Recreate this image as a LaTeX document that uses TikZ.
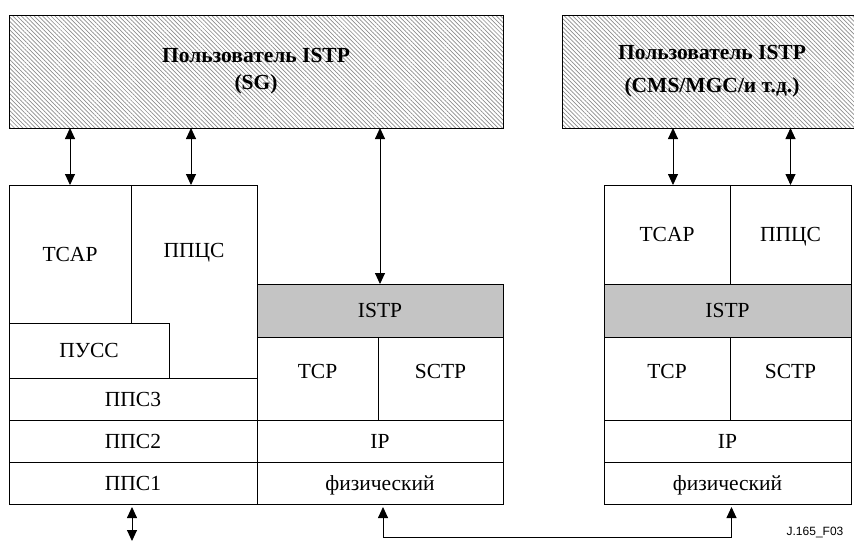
\documentclass[tikz,border=0pt]{standalone}
\usepackage{fontspec}
\setmainfont{Liberation Serif}
\newfontfamily\tagfont{Liberation Sans}
\usetikzlibrary{arrows.meta, patterns.meta}
\tikzstyle{user} = [rectangle, anchor=north west, inner sep=0pt, outer sep=0pt, draw=black, line width=0.8pt, pattern={Lines[angle=-45,distance=3pt,line width=0.7pt]}, pattern color=black!45, font=\fontsize{21.5}{25}\selectfont\bfseries, align=center]
\tikzstyle{cell} = [rectangle, anchor=north west, inner sep=0pt, outer sep=0pt, draw=black, line width=0.8pt, fill=white, text centered, text height=14pt, text depth=0pt]
\tikzstyle{band} = [cell, fill=black!23]
\tikzstyle{raised} = [text depth=14pt]
\tikzstyle{arrow} = [line width=0.9pt, <->, >={Triangle[length=11pt,width=10pt]}]

\begin{document}
\begin{tikzpicture}[x=1pt, y=-1pt, font=\fontsize{21.5}{25}\selectfont]
        \useasboundingbox (0,0) rectangle (854,542);
        \clip (0,0) rectangle (854,542);
        % users
        \node (sg) [user, minimum width=494, minimum height=113] at (9,15) {Пользователь ISTP\\[2pt](SG)};
        \node (cms) [user, minimum width=300, minimum height=113] at (562,15) {Пользователь ISTP\\[8pt](CMS/MGC/и т.д.)};
        % SS7 side
        \node (tcap) [cell, minimum width=122, minimum height=138] at (9,185) {TCAP};
        \node (ppcs) [cell, minimum width=126, minimum height=193, label={[anchor=center, yshift=-65pt, text height=14pt, text depth=0pt]north:ППЦС}] at (131,185) {};
        \node (pucc) [cell, minimum width=160, minimum height=55] at (9,323) {ПУСС};
        \node (ppsthree) [cell, minimum width=248, minimum height=42] at (9,378) {ППС3};
        \node (ppstwo) [cell, minimum width=248, minimum height=42] at (9,420) {ППС2};
        \node (ppsone) [cell, minimum width=248, minimum height=42] at (9,462) {ППС1};
        % IP side
        \node (istp) [band, minimum width=246, minimum height=53] at (257,284) {ISTP};
        \node (tcp) [cell, raised, minimum width=121, minimum height=83] at (257,337) {TCP};
        \node (sctp) [cell, raised, minimum width=125, minimum height=83] at (378,337) {SCTP};
        \node (ip) [cell, minimum width=246, minimum height=42] at (257,420) {IP};
        \node (fiz) [cell, minimum width=246, minimum height=42] at (257,462) {физический};
        % far end
        \node (tcapb) [cell, minimum width=126, minimum height=99] at (604,185) {TCAP};
        \node (ppcsb) [cell, minimum width=121, minimum height=99] at (730,185) {ППЦС};
        \node (istpb) [band, minimum width=247, minimum height=53] at (604,284) {ISTP};
        \node (tcpb) [cell, raised, minimum width=126, minimum height=83] at (604,337) {TCP};
        \node (sctpb) [cell, raised, minimum width=121, minimum height=83] at (730,337) {SCTP};
        \node (ipb) [cell, minimum width=247, minimum height=42] at (604,420) {IP};
        \node (fizb) [cell, minimum width=247, minimum height=42] at (604,462) {физический};
        \coordinate (out) at (132,541);
        \node (tag) [font=\tagfont\fontsize{12}{14}\selectfont] at (815,532) {J.165\_F03};
        % links
        \draw [arrow] (sg.south -| tcap.north) -- (tcap.north);
        \draw [arrow] ([xshift=-3pt]sg.south -| ppcs.north) -- ([xshift=-3pt]ppcs.north);
        \draw [arrow] (sg.south -| istp.north) -- (istp.north);
        \draw [arrow] ([xshift=6pt]cms.south -| tcapb.north) -- ([xshift=6pt]tcapb.north);
        \draw [arrow] (cms.south -| ppcsb.north) -- (ppcsb.north);
        \draw [arrow, shorten <=3pt] (ppsone.south -| out) -- (out);
        \draw [arrow, shorten <=3pt, shorten >=3pt] ([xshift=3pt]fiz.south) -- ++(0,33) -| ([xshift=4pt]fizb.south);
      \end{tikzpicture}
\end{document}
